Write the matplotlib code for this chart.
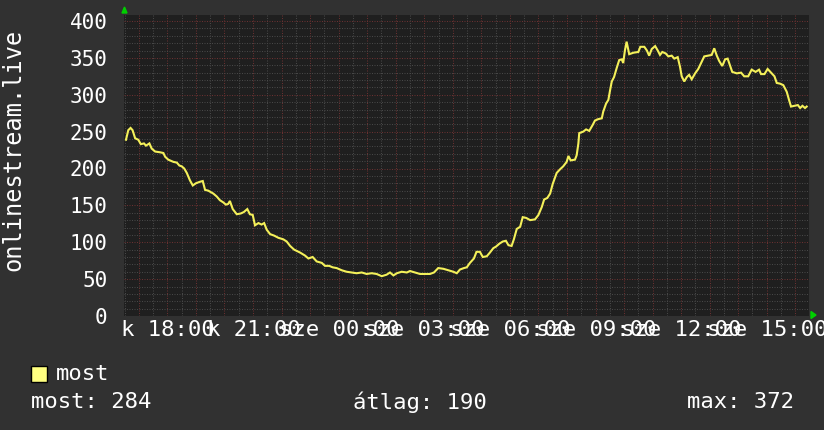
import matplotlib
matplotlib.use('Agg')
import matplotlib.pyplot as plt
from matplotlib.patches import Polygon, Rectangle

# time axis in hours from the left edge of the graph (~14:29 on "k")
hours = [0.07, 0.15, 0.23, 0.30, 0.39, 0.50, 0.59, 0.70, 0.77, 0.89, 0.97, 1.09, 1.26, 1.38, 1.44,
         1.55, 1.73, 1.85, 1.94, 2.02, 2.11, 2.20, 2.31, 2.41, 2.52, 2.66, 2.76, 2.84, 2.95, 3.13,
         3.25, 3.36, 3.48, 3.57, 3.65, 3.71, 3.81, 3.95, 4.09, 4.20, 4.32, 4.41, 4.51, 4.59, 4.71,
         4.82, 4.91, 5.00, 5.12, 5.26, 5.41, 5.58, 5.70, 5.82, 5.96,
         6.17, 6.34, 6.46, 6.61, 6.75, 6.93, 7.04, 7.19, 7.31, 7.45, 7.63, 7.80, 7.98, 8.15, 8.33,
         8.50, 8.68, 8.85, 9.03, 9.20, 9.32, 9.44, 9.56, 9.73, 9.91, 10.02, 10.20, 10.37, 10.55,
         10.72, 10.86, 11.01, 11.19, 11.36, 11.54, 11.66, 11.77, 11.91,
         12.01, 12.12, 12.26, 12.35, 12.47, 12.57, 12.71, 12.82, 12.94, 13.03, 13.15, 13.27, 13.38,
         13.47, 13.58, 13.66, 13.76, 13.88, 13.97, 14.09, 14.23, 14.40, 14.52, 14.64, 14.72, 14.83,
         14.93, 15.02, 15.16, 15.28, 15.39, 15.51, 15.57, 15.65, 15.80, 15.86, 15.92, 15.95, 16.09,
         16.19, 16.30, 16.42, 16.50, 16.62, 16.74, 16.79, 16.89, 16.97, 17.03, 17.09, 17.17, 17.26,
         17.35, 17.44, 17.49, 17.55, 17.61, 17.70, 17.85, 18.02,
         18.09, 18.23, 18.32, 18.40, 18.49, 18.61, 18.70, 18.78, 18.86, 18.98, 19.07, 19.19, 19.28,
         19.40, 19.48, 19.54, 19.63, 19.72, 19.80, 19.89, 20.01, 20.12, 20.22, 20.33, 20.47, 20.59,
         20.68, 20.77, 20.85, 20.96, 21.06, 21.15, 21.23, 21.31, 21.47, 21.62, 21.73, 21.87, 21.99,
         22.13, 22.25, 22.32, 22.44, 22.55, 22.67, 22.79, 22.87, 22.99, 23.10, 23.22, 23.30, 23.37,
         23.49, 23.61, 23.69, 23.77, 23.86, 23.92]

most = [239, 252, 255, 252, 241, 239, 233, 234, 231, 234, 227, 223, 222, 221, 216,
        212, 209, 208, 204, 203, 200, 194, 184, 177, 180, 182, 183, 171, 170, 166,
        162, 157, 154, 151, 152, 156, 145, 138, 139, 141, 145, 138, 137, 123, 126,
        124, 126, 117, 111, 109, 106, 104, 101, 95, 90,
        86, 82, 78, 80, 74, 72, 68, 68, 66, 65, 62, 60, 59, 58, 59,
        57, 58, 57, 54, 56, 59, 55, 58, 60, 59, 61, 59, 57, 57,
        57, 59, 65, 64, 62, 60, 58, 63, 65,
        66, 72, 78, 87, 87, 80, 81, 86, 92, 94, 98, 101, 102,
        96, 95, 104, 118, 121, 134, 133, 130, 131, 137, 148, 158, 160,
        166, 179, 194, 199, 203, 209, 217, 211, 212, 218, 234, 248, 250,
        253, 251, 259, 265, 267, 268, 277, 288, 293, 306, 318, 324, 336,
        347, 348, 343, 360, 372, 355, 357, 358,
        365, 365, 360, 353, 362, 366, 360, 354, 358, 356, 352, 353, 349,
        351, 338, 325, 318, 324, 327, 321, 329, 335, 343, 352, 353, 354,
        363, 353, 346, 339, 348, 349, 340, 331, 329, 330, 325, 325, 334,
        331, 334, 328, 328, 335, 330, 325, 316, 315, 313, 304, 293, 284,
        285, 286, 282, 285, 282, 284]

x_labels = ['k 18:00', 'k 21:00', 'sze 00:00', 'sze 03:00', 'sze 06:00',
            'sze 09:00', 'sze 12:00', 'sze 15:00']
x_label_hours = [1.535 + 3 * i for i in range(len(x_labels))]
y_ticks = [0, 50, 100, 150, 200, 250, 300, 350, 400]

series_name = 'most'
stat_now = 284
stat_avg = 190
stat_max = 372

BG = '#313131'
CANVAS = '#1f1f1f'
FONT = 'DejaVu Sans Mono'
W, H = 824, 430
L, R, T, B = 124, 809, 15, 316

fig = plt.figure(figsize=(W / 100, H / 100), dpi=100, facecolor=BG)
ax = fig.add_axes([L / W, (H - B) / H, (R - L) / W, (B - T) / H])
ax.set_facecolor(CANVAS)
ax.set_xlim(0, 24)
ax.set_ylim(0, (B - T) / 0.7375)

# grid: minor every 30 min / 10 units, major (red) every hour / 50 units
for m in range(0, 48):
    hx = 0.02 + m * 0.5
    col = '#6a3030' if m % 2 == 1 else '#474747'
    ax.axvline(hx, color=col, lw=0.72, ls=(0, (1, 1.5)), zorder=1)
for v in range(10, 410, 10):
    col = '#6a3030' if v % 50 == 0 else '#474747'
    ax.axhline(v, color=col, lw=0.72, ls=(0, (1, 1.5)), zorder=1)

ax.plot(hours, most, color='#f4f05a', lw=1.5, zorder=3, solid_joinstyle='miter')

for s in ax.spines.values():
    s.set_visible(False)
ax.set_yticks(y_ticks)
ax.set_yticklabels([str(v) for v in y_ticks])
ax.set_xticks(x_label_hours)
ax.set_xticklabels(x_labels)
ax.tick_params(axis='y', length=0, pad=12, labelsize=15, labelcolor='white')
ax.tick_params(axis='x', length=0, pad=3, labelsize=16, labelcolor='white')
for lab in ax.get_xticklabels() + ax.get_yticklabels():
    lab.set_family(FONT)

fig.text(13 / W, 1 - 150 / H, 'onlinestream.live', rotation=90, color='white',
         family=FONT, fontsize=17, ha='center', va='center')

# green axis arrows
fig.patches.append(Polygon([[122 / W, 1 - 13 / H], [127 / W, 1 - 13 / H], [124.5 / W, 1 - 7 / H]],
                           closed=True, color='#00d000', transform=fig.transFigure))
fig.patches.append(Polygon([[811 / W, 1 - 311.5 / H], [811 / W, 1 - 318.5 / H], [816 / W, 1 - 315 / H]],
                           closed=True, color='#00d000', transform=fig.transFigure))

# legend
fig.patches.append(Rectangle((31 / W, 1 - 382 / H), 16 / W, 16 / H, facecolor='#ffff80',
                             edgecolor='black', lw=1, transform=fig.transFigure))
fig.text(56 / W, 1 - 374 / H, series_name, color='white', family=FONT, fontsize=16,
         ha='left', va='center')
fig.text(31 / W, 1 - 402 / H, 'most: %d' % stat_now, color='white', family=FONT,
         fontsize=16, ha='left', va='center')
fig.text(353 / W, 1 - 402 / H, 'átlag: %d' % stat_avg, color='white', family=FONT,
         fontsize=16, ha='left', va='center')
fig.text(794 / W, 1 - 402 / H, 'max: %d' % stat_max, color='white', family=FONT,
         fontsize=16, ha='right', va='center')

fig.savefig('out.png', dpi=100, facecolor=BG)
